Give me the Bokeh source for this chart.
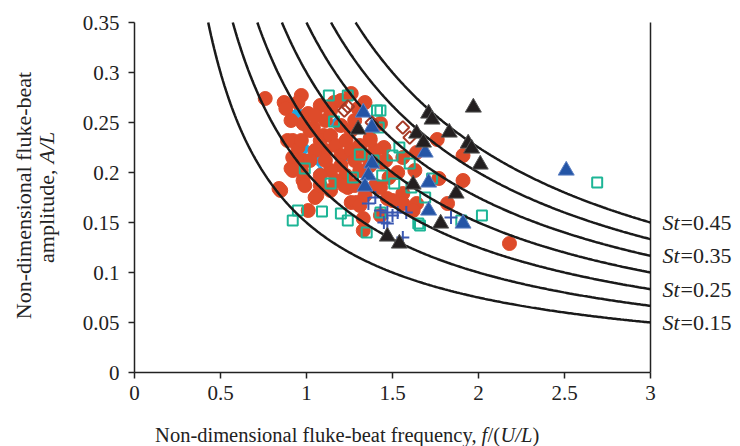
import numpy as np
from bokeh.plotting import figure
from bokeh.models import FixedTicker, Label, Range1d
from bokeh.embed import file_html
from bokeh.resources import INLINE

# ---------------- data ----------------
st_values = [0.15, 0.20, 0.25, 0.30, 0.35, 0.40, 0.45]
st_labelled = [0.15, 0.25, 0.35, 0.45]
st_label_texts = ["=0.15", "=0.25", "=0.35", "=0.45"]

x_ticks = [0, 0.5, 1, 1.5, 2, 2.5, 3]
x_tick_labels = ["0", "0.5", "1", "1.5", "2", "2.5", "3"]
y_ticks = [0, 0.05, 0.1, 0.15, 0.2, 0.25, 0.3, 0.35]
y_tick_labels = ["0", "0.05", "0.1", "0.15", "0.2", "0.25", "0.3", "0.35"]

# red filled circles
red_x = [0.76, 0.87, 0.88, 0.97, 0.95, 1.08, 1.26, 1.16, 1.34, 1.01, 0.98, 1.04, 1.10, 0.92,
         0.95, 0.92, 0.91, 0.98, 0.84, 0.98, 1.06, 1.01, 1.24, 1.26, 1.29, 1.33, 1.33, 1.43,
         1.48, 1.56, 1.56, 1.64, 1.62, 1.63, 1.56, 1.45, 1.43, 1.37, 1.64, 1.76, 1.91, 1.77,
         1.91, 1.82, 2.18, 1.47, 1.44, 1.53,
         1.08, 1.11, 1.14, 1.17, 1.20, 1.23, 1.26, 1.20, 1.14, 1.11, 1.05, 1.02, 1.23, 1.28,
         1.31, 1.28, 1.17, 1.08, 1.31, 1.34, 1.37, 1.40, 1.26, 1.20, 1.28, 1.11, 1.02, 0.99,
         1.14, 1.34, 1.40, 1.31, 0.97, 1.05, 1.14, 0.91, 0.89, 0.94, 0.97, 1.20, 1.30, 1.37,
         1.46, 1.50, 1.43, 0.92, 0.85, 1.05, 1.08, 1.22]
red_y = [0.274, 0.270, 0.264, 0.277, 0.270, 0.267, 0.279, 0.270, 0.270, 0.259, 0.249, 0.245,
         0.237, 0.232, 0.225, 0.215, 0.204, 0.212, 0.184, 0.192, 0.177, 0.162, 0.185, 0.170,
         0.170, 0.154, 0.142, 0.185, 0.195, 0.179, 0.169, 0.169, 0.162, 0.202, 0.215, 0.225,
         0.249, 0.234, 0.220, 0.233, 0.217, 0.194, 0.192, 0.169, 0.129, 0.174, 0.210, 0.200,
         0.232, 0.222, 0.237, 0.227, 0.217, 0.232, 0.222, 0.207, 0.202, 0.212, 0.222, 0.212,
         0.197, 0.212, 0.202, 0.187, 0.192, 0.197, 0.227, 0.217, 0.207, 0.222, 0.242, 0.247,
         0.252, 0.252, 0.242, 0.187, 0.182, 0.177, 0.187, 0.167, 0.202, 0.257, 0.262, 0.252,
         0.232, 0.212, 0.232, 0.272, 0.264, 0.232, 0.212, 0.172, 0.157, 0.202, 0.182, 0.175,
         0.187, 0.187]

# teal open squares
teal_x = [2.69, 2.02, 1.66, 1.90, 1.69, 1.73, 1.54, 1.60, 1.43, 1.13, 1.24, 1.41, 1.16, 1.42,
          0.92, 0.95, 1.09, 1.20, 1.24, 1.14, 0.99, 1.35, 1.44, 1.51, 1.65, 1.43, 1.61, 1.39,
          1.50, 1.27, 1.31]
teal_y = [0.190, 0.157, 0.147, 0.152, 0.175, 0.194, 0.225, 0.209, 0.262, 0.277, 0.277, 0.262,
          0.251, 0.245, 0.152, 0.162, 0.161, 0.159, 0.152, 0.189, 0.204, 0.140, 0.197, 0.189,
          0.149, 0.160, 0.185, 0.212, 0.217, 0.195, 0.218]

# cyan filled diamonds
cyan_x = [0.95, 1.17, 0.99, 1.07, 1.08, 1.22]
cyan_y = [0.260, 0.249, 0.224, 0.212, 0.200, 0.215]

# dark red open diamonds
brown_x = [1.22, 1.24, 1.56, 1.60, 1.38]
brown_y = [0.262, 0.266, 0.245, 0.235, 0.250]

# blue filled triangles
blue_x = [2.51, 1.69, 1.71, 1.71, 1.91, 1.33, 1.38, 1.38, 1.36, 1.34]
blue_y = [0.202, 0.220, 0.190, 0.162, 0.149, 0.260, 0.245, 0.209, 0.197, 0.186]

# black filled triangles
black_x = [1.71, 1.73, 1.97, 1.64, 1.83, 1.94, 1.96, 2.01, 1.68, 1.62, 1.87, 1.78, 1.47, 1.54, 1.30]
black_y = [0.259, 0.253, 0.265, 0.239, 0.240, 0.229, 0.224, 0.208, 0.230, 0.188, 0.179, 0.149,
           0.136, 0.129, 0.243]

# blue plus signs
plus_x = [1.36, 1.43, 1.47, 1.50, 1.53, 1.58, 1.47, 1.56, 1.84, 1.45, 1.40]
plus_y = [0.169, 0.162, 0.160, 0.157, 0.160, 0.160, 0.149, 0.135, 0.155, 0.150, 0.175]

# ---------------- figure ----------------
FONT = "Liberation Serif"
INK = "#222222"
W, H = 740, 446
X0_PX, Y0_PX, PX_PER_X, PX_PER_Y = 134, 372, 172.0, 1000.0

p = figure(width=W, height=H, output_backend="svg", toolbar_location=None,
           x_range=Range1d(-X0_PX / PX_PER_X, (W - X0_PX) / PX_PER_X),
           y_range=Range1d(-(H - Y0_PX) / PX_PER_Y, Y0_PX / PX_PER_Y),
           min_border=0)
p.outline_line_color = None
p.grid.grid_line_color = None
p.background_fill_color = "white"
p.border_fill_color = "white"

for ax, ticks, labels in ((p.xaxis[0], x_ticks, x_tick_labels), (p.yaxis[0], y_ticks, y_tick_labels)):
    ax.fixed_location = 0
    ax.bounds = (ticks[0], ticks[-1])
    ax.ticker = FixedTicker(ticks=ticks)
    ax.major_label_overrides = {t: l for t, l in zip(ticks, labels)}
    ax.major_label_text_font = FONT
    ax.major_label_text_font_size = "21px"
    ax.major_label_text_color = INK
    ax.axis_line_color = INK
    ax.axis_line_width = 1.5
    ax.major_tick_line_color = INK
    ax.major_tick_line_width = 1.5
    ax.major_tick_in = 0
    ax.major_tick_out = 6
    ax.minor_tick_line_color = None
p.xaxis.major_label_standoff = 7
p.yaxis.major_label_standoff = 9

# right-hand frame line at the end of the x axis
p.segment(x0=[x_ticks[-1]], y0=[y_ticks[0]], x1=[x_ticks[-1]], y1=[y_ticks[-1]],
          line_color=INK, line_width=1.5)

# points
p.scatter(cyan_x, cyan_y, marker="square", angle=np.pi / 4, size=9,
          fill_color="#1CA8E2", line_color="#1CA8E2")
p.scatter(red_x, red_y, marker="circle", size=14, fill_color="#DE4B2A", line_color="#DE4B2A")
p.scatter(teal_x, teal_y, marker="square", size=10, fill_color=None,
          line_color="#1DB596", line_width=2)
p.scatter(plus_x, plus_y, marker="cross", size=13, line_color="#3A58B2", line_width=2)
p.scatter(brown_x, brown_y, marker="square", angle=np.pi / 4, size=9, fill_color=None,
          line_color="#A63A26", line_width=2)

# iso-Strouhal curves
for st in st_values:
    xs = np.linspace(st / y_ticks[-1], x_ticks[-1], 300)
    p.line(xs, st / xs, line_color="#1a1a1a", line_width=2.5)

p.scatter(blue_x, blue_y, marker="triangle", size=16, fill_color="#2455A6", line_color="#5E82C4",
          line_width=1)
p.scatter(black_x, black_y, marker="triangle", size=16, fill_color="#231F20", line_color="#555555",
          line_width=1)

# St labels at the right
for st, txt in zip(st_labelled, st_label_texts):
    p.add_layout(Label(x=x_ticks[-1], y=st / x_ticks[-1], x_offset=12, text="St", text_font=FONT,
                       text_font_style="italic", text_font_size="22px", text_baseline="middle",
                       text_color=INK))
    p.add_layout(Label(x=x_ticks[-1], y=st / x_ticks[-1], x_offset=30, text=txt, text_font=FONT,
                       text_font_size="22px", text_baseline="middle", text_color=INK))

# x axis title (pieces for italics), anchored at data origin with pixel offsets
xl_y = -62
pieces = [("Non-dimensional fluke-beat frequency,", "normal", 342, "right"),
          ("f", "italic", 347, "left"),
          ("/(", "normal", 353, "left"),
          ("U/L", "italic", 366, "left"),
          (")", "normal", 398, "left")]
for txt, style, off, align in pieces:
    p.add_layout(Label(x=0, y=0, x_offset=off, y_offset=xl_y, text=txt, text_font=FONT,
                       text_font_style=style, text_font_size="20.5px", text_align=align,
                       text_baseline="middle", text_color=INK))

# y axis title (two rotated lines)
p.add_layout(Label(x=0, y=0, x_offset=-111, y_offset=177, text="Non-dimensional fluke-beat",
                   angle=np.pi / 2, text_font=FONT, text_font_size="22px", text_align="center",
                   text_baseline="middle", text_color=INK))
p.add_layout(Label(x=0, y=0, x_offset=-88, y_offset=203, text="amplitude,",
                   angle=np.pi / 2, text_font=FONT, text_font_size="22px", text_align="right",
                   text_baseline="middle", text_color=INK))
p.add_layout(Label(x=0, y=0, x_offset=-88, y_offset=209, text="A/L",
                   angle=np.pi / 2, text_font=FONT, text_font_style="italic", text_font_size="22px",
                   text_align="left", text_baseline="middle", text_color=INK))

open("out.html", "w").write(file_html(p, INLINE))
